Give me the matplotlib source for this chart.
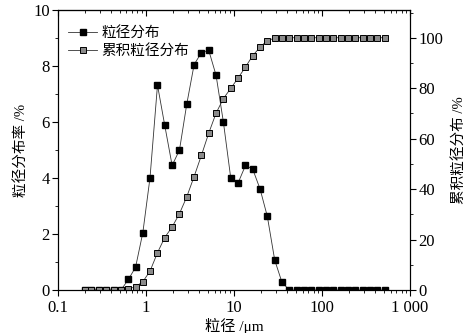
import matplotlib
matplotlib.use('Agg')
import matplotlib.pyplot as plt
from matplotlib.ticker import LogLocator, MultipleLocator, FixedLocator, NullFormatter

# particle size (um)
x_um = [0.20, 0.24, 0.29, 0.35, 0.43, 0.52, 0.63, 0.76, 0.92, 1.11,
        1.35, 1.63, 1.98, 2.40, 2.90, 3.52, 4.26, 5.16, 6.25, 7.57,
        9.17, 11.1, 13.5, 16.3, 19.8, 23.9, 29.0, 35.1, 42.6, 51.6,
        62.5, 75.7, 91.7, 111, 135, 163, 198, 240, 290, 352, 426, 516]

# frequency distribution (%)
freq = [0, 0, 0, 0, 0, 0, 0.38, 0.81, 2.05, 4.01,
        7.32, 5.89, 4.45, 5.00, 6.63, 8.05, 8.48, 8.56, 7.67, 6.00,
        4.01, 3.82, 4.45, 4.32, 3.60, 2.63, 1.07, 0.27, 0, 0,
        0, 0, 0, 0, 0, 0, 0, 0, 0, 0, 0, 0]

# cumulative distribution (%)
cum = [0, 0, 0, 0, 0, 0, 0.4, 1.3, 3.3, 7.5,
       14.8, 20.8, 25.0, 30.3, 36.9, 45.0, 53.4, 62.2, 70.1, 75.9,
       79.9, 84.0, 88.4, 92.9, 96.3, 98.9, 99.8, 100, 100, 100,
       100, 100, 100, 100, 100, 100, 100, 100, 100, 100, 100, 100]

xtick_vals = [0.1, 1, 10, 100, 1000]
xtick_labels = ['0.1', '1', '10', '100', '1 000']

plt.rcParams['font.family'] = ['Liberation Serif', 'Noto Sans CJK SC']
plt.rcParams['font.size'] = 11

fig = plt.figure(figsize=(4.66, 3.33), dpi=100)
ax = fig.add_axes([0.1245, 0.129, 0.7554, 0.841])
ax2 = ax.twinx()

l1, = ax.plot(x_um, freq, color='#333333', linewidth=0.6,
              marker='s', markersize=5, markerfacecolor='black',
              markeredgecolor='black', label='粒径分布')
l2, = ax2.plot(x_um, cum, color='#333333', linewidth=0.6,
               marker='s', markersize=4.2, markerfacecolor='#8a8a8a',
               markeredgecolor='black', markeredgewidth=0.7,
               label='累积粒径分布')

ax.set_xscale('log')
ax.set_xlim(0.1, 1000)
ax.set_ylim(0, 10)
ax2.set_ylim(0, 111)

ax.xaxis.set_major_locator(FixedLocator(xtick_vals))
ax.set_xticklabels(xtick_labels)
ax.xaxis.set_minor_locator(LogLocator(base=10, subs=range(2, 10)))
ax.xaxis.set_minor_formatter(NullFormatter())
ax.yaxis.set_major_locator(MultipleLocator(2))
ax.yaxis.set_minor_locator(MultipleLocator(1))
ax2.yaxis.set_major_locator(MultipleLocator(20))
ax2.yaxis.set_minor_locator(MultipleLocator(10))

ax.tick_params(axis='x', which='both', direction='out', labelsize=12)
ax.tick_params(axis='x', which='major', length=4, width=0.8)
ax.tick_params(axis='x', which='minor', length=2, width=0.6)
ax.tick_params(axis='y', which='major', direction='out', length=4, labelsize=12, pad=2)
ax.tick_params(axis='y', which='minor', direction='out', length=2)
ax2.tick_params(axis='y', which='major', direction='out', length=4, labelsize=12, pad=2)
ax2.tick_params(axis='y', which='minor', direction='out', length=2)

# top axis: inward ticks, no labels
top = ax.secondary_xaxis('top')
top.xaxis.set_major_locator(FixedLocator(xtick_vals))
top.xaxis.set_minor_locator(LogLocator(base=10, subs=range(2, 10)))
top.xaxis.set_major_formatter(NullFormatter())
top.xaxis.set_minor_formatter(NullFormatter())
top.tick_params(which='major', direction='in', length=4, width=0.8)
top.tick_params(which='minor', direction='in', length=2, width=0.6)

ax.set_xlabel('粒径 /μm', fontsize=11, labelpad=1)
ax.set_ylabel('粒径分布率 /%', fontsize=10.5, labelpad=4)
ax2.set_ylabel('累积粒径分布 /%', fontsize=10.5, labelpad=6)

ax.legend([l1, l2], ['粒径分布', '累积粒径分布'], loc='upper left',
          bbox_to_anchor=(0.0, 0.98), frameon=False, fontsize=10.5,
          handlelength=2.0, handletextpad=0.3, labelspacing=0.3,
          borderaxespad=0.3)

fig.savefig('out.png', dpi=100)
